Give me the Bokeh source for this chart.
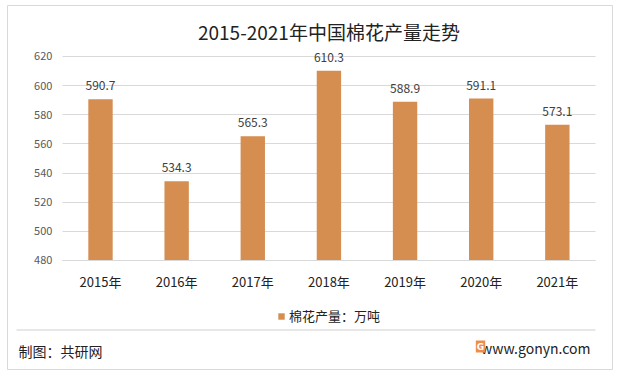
from bokeh.plotting import figure
from bokeh.models import (ColumnDataSource, LabelSet, Label, Legend, LegendItem,
                          FixedTicker, Range1d)
from bokeh.core.properties import value
from bokeh.embed import file_html
from bokeh.resources import INLINE

years = ["2015年", "2016年", "2017年", "2018年", "2019年", "2020年", "2021年"]
output = [590.7, 534.3, 565.3, 610.3, 588.9, 591.1, 573.1]
y_ticks = [480, 500, 520, 540, 560, 580, 600, 620]
title_text = "2015-2021年中国棉花产量走势"
series_name = "棉花产量：万吨"
source_text = "制图：共研网"
site_text = "www.gonyn.com"

FONT = "Noto Sans CJK SC"
BAR = "#D58D50"
GRID = "#D9D9D9"

idx = list(range(len(years)))
src = ColumnDataSource(dict(x=idx, top=output, label=[f"{v:.1f}" for v in output]))

# frame covers the whole bordered card; axes are pinned inside it
p = figure(x_range=Range1d(-1.2214, 6.7375), y_range=Range1d(404.5, 655.0),
           width=613, height=370, output_backend="svg", toolbar_location=None,
           min_border_left=7, min_border_top=5, min_border_right=0,
           min_border_bottom=0)
p.outline_line_color = GRID
p.background_fill_color = "white"
p.border_fill_color = "white"

bars = p.vbar(x="x", top="top", bottom=480, width=0.32, source=src,
              fill_color=BAR, line_color=None)

p.yaxis.fixed_location = -0.5
p.yaxis.ticker = FixedTicker(ticks=y_ticks)
p.yaxis.axis_line_color = None
p.yaxis.major_tick_line_color = None
p.yaxis.minor_tick_line_color = None
p.yaxis.major_label_text_font = FONT
p.yaxis.major_label_text_font_size = "11px"
p.yaxis.major_label_text_color = "#595959"
p.yaxis.major_label_standoff = 4

p.xaxis.fixed_location = 480
p.xaxis.bounds = (-0.5, 6.5)
p.xaxis.ticker = FixedTicker(ticks=idx)
p.xaxis.major_label_overrides = {i: y for i, y in zip(idx, years)}
p.xaxis.axis_line_color = GRID
p.xaxis.major_tick_line_color = None
p.xaxis.minor_tick_line_color = None
p.xaxis.major_label_text_font = FONT
p.xaxis.major_label_text_font_size = "13px"
p.xaxis.major_label_text_color = "#222222"
p.xaxis.major_label_standoff = 6

p.xgrid.grid_line_color = None
p.ygrid.ticker = FixedTicker(ticks=y_ticks)
p.ygrid.grid_line_color = GRID
p.ygrid.cross_bounds = (-0.5, 6.5)

labels = LabelSet(x="x", y="top", text="label", source=src, text_align="center",
                  text_baseline="bottom", y_offset=9, text_font=value(FONT),
                  text_font_size="12px", text_color="#404040")
p.add_layout(labels)

p.add_layout(Label(x=3, y=637, text=title_text, text_align="center",
                   text_baseline="middle", text_font=FONT,
                   text_font_size="19px", text_color="#222222"))

legend = Legend(items=[LegendItem(label=series_name, renderers=[bars])],
                location=(270, 45), orientation="horizontal",
                glyph_width=8, glyph_height=8, label_standoff=4,
                padding=0, margin=0, border_line_color=None,
                background_fill_alpha=0,
                label_text_font=FONT, label_text_font_size="13px",
                label_text_color="#222222")
p.add_layout(legend, "center")

# footer separator drawn through the pinned scales, on top of everything
p.segment(x0=[-1.103], y0=[432.3], x1=[6.5], y1=[432.3],
          line_color="#D0D0D0", line_width=1.2, level="overlay")

p.add_layout(Label(x=11, y=20, x_units="screen", y_units="screen",
                   text=source_text, text_baseline="middle", text_font=FONT,
                   text_font_size="14px", text_color="#222222"))
p.add_layout(Label(x=583, y=23, x_units="screen", y_units="screen",
                   text=site_text, text_align="right", text_baseline="middle",
                   text_font=FONT, text_font_size="14px", text_color="#222222"))
p.add_layout(Label(x=473, y=24, x_units="screen", y_units="screen",
                   text="G", text_align="center", text_baseline="middle",
                   text_font="DejaVu Sans", text_font_style="bold",
                   text_font_size="9px", text_color="white",
                   background_fill_color="#F08C4A", padding=1))

open("out.html", "w").write(file_html(p, INLINE))
